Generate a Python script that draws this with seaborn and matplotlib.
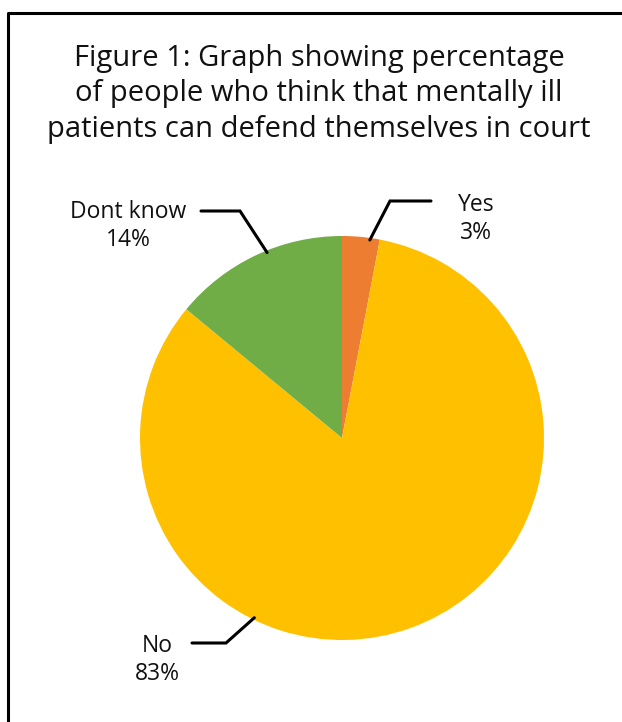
import matplotlib
matplotlib.use("Agg")
import matplotlib.pyplot as plt
import seaborn as sns
import numpy as np

sns.set_theme(style="white")
plt.rcParams['font.family'] = ['Open Sans', 'DejaVu Sans']

categories = ["Yes", "No", "Dont know"]
values = [3, 83, 14]
pct_labels = ["3%", "83%", "14%"]
colors = ["#ED7D31", "#FFC000", "#70AD47"]
title = "Figure 1: Graph showing percentage\nof people who think that mentally ill\npatients can defend themselves in court"

W, H = 622, 722
fig = plt.figure(figsize=(W / 100, H / 100), dpi=100)
fig.patch.set_facecolor("white")

# frame (left and top lines only visible)
fig.add_artist(plt.Line2D([8 / W, 8 / W, 1.0], [0.0, 1 - 13 / H, 1 - 13 / H],
                          transform=fig.transFigure, color="black", lw=2.2))

fig.text(319 / W, 1 - 94 / H, title, ha="center", va="center", fontsize=21,
         linespacing=1.31, color="#111111", fontweight="medium")

cx, cy, r = 342, 438, 202
ax = fig.add_axes([(cx - r) / W, (H - cy - r) / H, 2 * r / W, 2 * r / H])
wedges, _ = ax.pie(values, colors=colors, startangle=90, counterclock=False,
                   wedgeprops=dict(linewidth=0))
ax.set_xlim(-1, 1)
ax.set_ylim(-1, 1)
ax.set_aspect("equal")
ax.axis("off")

def px(x, y):
    return ((x - cx) / r, (cy - y) / r)

# leader lines: anchor angle on the edge, elbow, end
leaders = {
    "Yes": dict(angle=82, elbow=(390, 201), end=(431, 201), text=(476, 219)),
    "No": dict(angle=244, elbow=(226, 643), end=(192, 643), text=(157, 660)),
    "Dont know": dict(angle=112, elbow=(240, 211), end=(201, 211), text=(128, 226)),
}
for cat, pct in zip(categories, pct_labels):
    d = leaders[cat]
    a = np.deg2rad(d["angle"])
    ex, ey = px(*d["elbow"])
    nx, ny = px(*d["end"])
    ax.plot([0.99 * np.cos(a), ex, nx], [0.99 * np.sin(a), ey, ny],
            color="black", lw=2.2, clip_on=False, solid_joinstyle="miter")
    tx, ty = px(*d["text"])
    ax.text(tx, ty, f"{cat}\n{pct}", ha="center", va="center", fontsize=16.5,
            linespacing=1.2, color="#111111", fontweight="normal", clip_on=False)

fig.savefig("out.png", dpi=100, facecolor="white")
